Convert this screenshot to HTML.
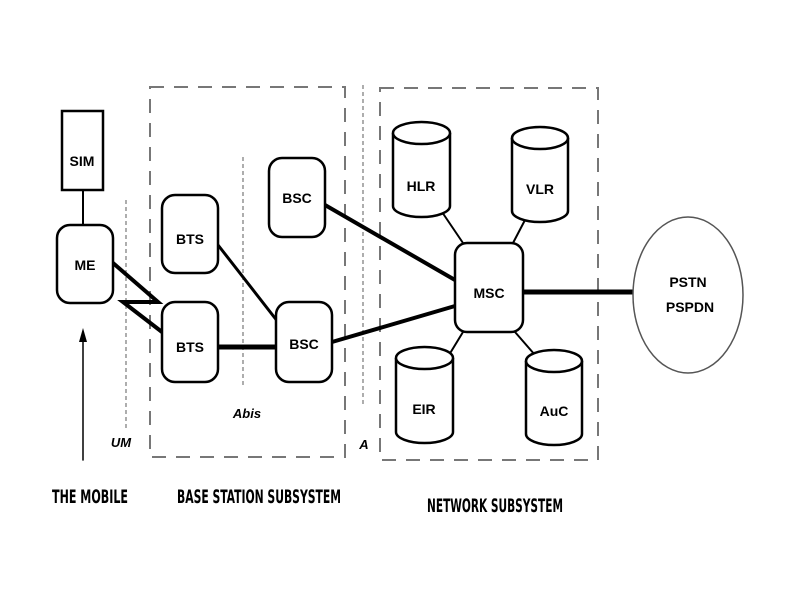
<!DOCTYPE html>
<html><head><meta charset="utf-8"><style>html,body{margin:0;padding:0;background:#fff}svg{display:block}</style></head>
<body>
<svg width="794" height="595" viewBox="0 0 794 595" xmlns="http://www.w3.org/2000/svg" font-family="Liberation Sans, sans-serif" font-weight="bold">
<g fill="none" stroke="#777" stroke-width="2" stroke-dasharray="14,10">
<rect x="150" y="87" width="195" height="370"/>
<rect x="380" y="88" width="218" height="372"/>
</g>
<g stroke="#777" stroke-width="1.2" stroke-dasharray="4,3">
<line x1="126" y1="200" x2="126" y2="430"/>
<line x1="243" y1="157" x2="243" y2="385"/>
<line x1="363" y1="85" x2="363" y2="405"/>
</g>
<g stroke="#000" fill="none" stroke-linecap="round">
<line x1="83" y1="190" x2="83" y2="225" stroke-width="2"/>
<line x1="325" y1="205" x2="455" y2="280" stroke-width="4"/>
<line x1="332" y1="342" x2="455" y2="306" stroke-width="4"/>
<line x1="218" y1="245" x2="278" y2="322" stroke-width="3"/>
<line x1="218" y1="347" x2="276" y2="347" stroke-width="5"/>
<line x1="523" y1="292" x2="633" y2="292" stroke-width="5"/>
<polyline points="113,263 158,302 123,302 162,332" stroke-width="4" stroke-linejoin="miter"/>
<line x1="442" y1="212" x2="463" y2="243" stroke-width="2"/>
<line x1="525" y1="220" x2="513" y2="243" stroke-width="2"/>
<line x1="463" y1="332" x2="449" y2="355" stroke-width="2"/>
<line x1="515" y1="332" x2="535" y2="355" stroke-width="2"/>
<line x1="83" y1="460" x2="83" y2="335" stroke-width="1.5"/>
</g>
<polygon points="83,328 79,342 87,342" fill="#000"/>
<g fill="#fff" stroke="#000" stroke-width="2.5">
<rect x="62" y="111" width="41" height="79"/>
<rect x="57" y="225" width="56" height="78" rx="13"/>
<rect x="162" y="195" width="56" height="78" rx="13"/>
<rect x="162" y="302" width="56" height="80" rx="13"/>
<rect x="269" y="158" width="56" height="79" rx="13"/>
<rect x="276" y="302" width="56" height="80" rx="13"/>
<rect x="455" y="243" width="68" height="89" rx="12"/>
</g>
<g fill="#fff" stroke="#000" stroke-width="2.5">
<path d="M393,133 v73 a28.5,11 0 0 0 57,0 v-73"/><ellipse cx="421.5" cy="133" rx="28.5" ry="11"/>
<path d="M512,138 v73 a28,11 0 0 0 56,0 v-73"/><ellipse cx="540" cy="138" rx="28" ry="11"/>
<path d="M396,358 v74 a28.5,11 0 0 0 57,0 v-74"/><ellipse cx="424.5" cy="358" rx="28.5" ry="11"/>
<path d="M526,361 v73 a28,11 0 0 0 56,0 v-73"/><ellipse cx="554" cy="361" rx="28" ry="11"/>
</g>
<ellipse cx="688" cy="295" rx="55" ry="78" fill="#fff" stroke="#555" stroke-width="1.5"/>
<g font-size="14" text-anchor="middle" fill="#000">
<text x="82" y="166">SIM</text>
<text x="85" y="270">ME</text>
<text x="190" y="244">BTS</text>
<text x="190" y="352">BTS</text>
<text x="297" y="203">BSC</text>
<text x="304" y="349">BSC</text>
<text x="489" y="298">MSC</text>
<text x="421" y="191">HLR</text>
<text x="540" y="194">VLR</text>
<text x="424" y="414">EIR</text>
<text x="554" y="416">AuC</text>
<text x="688" y="287">PSTN</text>
<text x="690" y="312">PSPDN</text>
</g>
<g font-size="13" font-style="italic" text-anchor="middle">
<text x="121" y="447">UM</text>
<text x="247" y="418">Abis</text>
<text x="364" y="449">A</text>
</g>
<g font-size="19" font-family="DejaVu Sans Condensed, DejaVu Sans, sans-serif" font-weight="bold" text-anchor="middle" fill="#000">
<text x="90" y="503" textLength="76" lengthAdjust="spacingAndGlyphs">THE MOBILE</text>
<text x="259" y="503" textLength="164" lengthAdjust="spacingAndGlyphs">BASE STATION SUBSYSTEM</text>
<text x="495" y="512" textLength="136" lengthAdjust="spacingAndGlyphs">NETWORK SUBSYSTEM</text>
</g>
</svg>
</body></html>
